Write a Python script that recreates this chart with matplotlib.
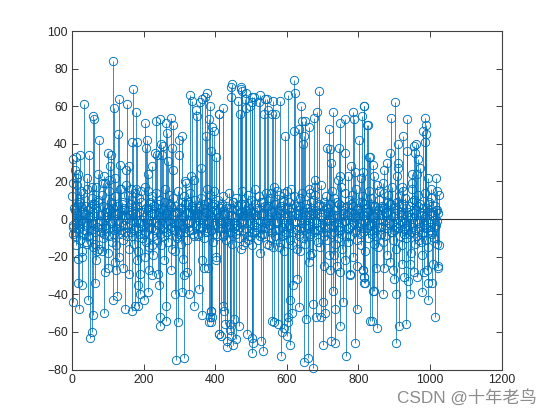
import numpy as np
import matplotlib
matplotlib.use('Agg')
import matplotlib.pyplot as plt

# Valores leidos a ojo de la figura
top_x = [115, 171, 132, 33, 118, 155, 179, 60, 62, 205, 75, 129, 169, 181, 209, 206, 100, 21, 47, 4, 11, 109, 106, 134,
         159, 150, 224, 231, 236, 246, 262, 276, 282, 266, 300, 306, 249, 255, 279, 238, 251, 299, 268, 283, 331, 335,
         346, 349, 362, 358, 377, 372, 385, 410, 383, 392, 397, 373, 387, 401, 360, 333, 342, 317, 319, 213, 74, 89,
         42, 9, 18, 2, 13, 57, 24, 137, 165, 180, 121, 102, 87, 211, 376, 398,
         447, 445, 443, 472, 473, 475, 486, 482, 463, 503, 509, 525, 523, 539, 545, 562, 580, 604, 619, 622, 691, 641,
         684, 675, 728, 784, 815, 810, 787, 762, 748, 825, 719, 642, 651, 663, 620, 635, 595, 649, 645, 712, 721, 747,
         764, 803, 829, 725, 779, 748, 744, 770, 792, 814, 808, 679, 680, 613, 555, 572, 592, 665, 469, 487, 497, 504,
         536, 548, 560, 567, 423, 411,
         903, 816, 891, 936, 987, 989, 982, 990, 986, 924, 911, 956, 961, 937, 958, 888, 826, 832, 841, 880, 872, 910,
         911, 908, 968, 972, 1018, 996, 844, 922, 870, 858, 1019, 1024, 949, 963, 950, 1002, 865]
top_y = [84, 69, 64, 61, 59, 61, 57, 55, 53, 51, 42, 45, 41, 41, 42, 38, 35, 34, 34, 32, 33, 34, 28, 29,
         28, 26, 28, 35, 52, 53, 51, 54, 50, 46, 42, 44, 40, 39, 38, 34, 34, 34, 31, 26, 66, 63,
         58, 55, 64, 62, 67, 65, 60, 56, 53, 49, 47, 44, 36, 33, 27, 23, 21, 20, 19, 24, 24, 23,
         22, 26, 24, 19, 22, 17, 15, 16, 16, 16, 22, 21, 19, 15, 16, 15,
         72, 70, 65, 70, 69, 68, 67, 64, 63, 65, 65, 66, 62, 64, 64, 63, 63, 66, 74, 67, 68, 60,
         57, 54, 57, 57, 60, 55, 53, 53, 51, 50, 48, 52, 52, 49, 47, 48, 44, 44, 40, 38, 37, 38,
         35, 42, 33, 30, 28, 23, 21, 23, 25, 25, 22, 21, 17, 16, 14, 15, 14, 14, 56, 59, 60, 62,
         56, 58, 56, 56, 59, 56,
         62, 60, 54, 53, 54, 50, 47, 45, 41, 44, 40, 39, 40, 36, 35, 35, 50, 33, 29, 30, 26, 30,
         27, 23, 32, 27, 22, 22, 23, 17, 19, 15, 15, 13, 24, 24, 19, 16, 6]

bot_x = [2, 8, 17, 28, 16, 29, 4, 20, 45, 58, 55, 51, 63, 67, 91, 89, 114, 125, 123, 119, 100, 142, 158, 147, 168,
         176, 184, 185, 190, 181, 203, 191, 201, 212, 214, 223, 240, 242, 245, 247, 263, 264, 258, 277, 289, 290, 296,
         314, 308, 326, 312, 321, 309, 342, 356, 363, 364, 384, 386, 387, 370, 381, 410, 402, 403, 69, 83, 41, 224, 288,
         389, 390, 388, 423, 425, 412, 417, 428, 441, 453, 467, 442, 445, 458, 434, 433, 451, 490, 502, 507, 503, 528,
         534, 479, 493, 525, 551, 560, 565, 576, 587, 592, 604, 600, 609, 584, 610, 616, 603, 618, 628, 635, 653, 672,
         682, 696, 707, 702, 700, 649, 659, 674, 723, 736, 734, 730, 750, 758, 765, 790, 796, 703, 722, 749, 776, 814,
         817, 815, 832, 661, 665, 637, 577, 732, 739, 763, 795, 777,
         1025, 1019, 1022, 1023, 1015, 995, 996, 1006, 977, 979, 984, 991, 963, 956, 945, 940, 927, 933, 914, 905, 906,
         900, 896, 871, 869, 848, 851, 839, 840, 845, 818, 816, 813, 970, 1009, 888, 944, 921]
bot_y = [-3, -9, -21, -20, -34, -35, -44, -48, -43, -51, -60, -63, -34, -22, -28, -50, -43, -41, -27, -23, -26, -26,
         -29, -48, -49, -46, -46, -35, -29, -22, -20, -40, -43, -39, -27, -30, -29, -35, -52, -57, -54, -46, -22, -27,
         -40, -75, -55, -74, -39, -40, -30, -28, -21, -46, -37, -22, -51, -55, -52, -49, -26, -26, -61, -22, -20, -17,
         -17, -13, -14, -17,
         -49, -52, -55, -46, -49, -61, -62, -56, -56, -53, -57, -59, -62, -64, -65, -68, -67, -61, -63, -66, -71, -65,
         -70, -14, -11, -9, -14, -54, -55, -56, -60, -58, -55, -62, -67, -73, -43, -50, -52, -35, -32, -47, -53, -45,
         -52, -52, -50, -44, -67, -76, -74, -79, -65, -66, -48, -38, -57, -44, -73, -66, -48, -25, -27, -28, -30, -27,
         -31, -34, -54, -23, -19, -17, -15, -19, -25, -22, -25, -29,
         -14, -13, -25, -26, -52, -43, -34, -34, -39, -19, -28, -27, -31, -28, -40, -33, -31, -56, -57, -66, -40,
         -32, -27, -26, -40, -26, -58, -54, -38, -38, -34, -31, -27, -11, -24, -23, -24, -24]

# nucleo denso alrededor de cero, un valor cada 3 muestras
core_y = [
    12, -8, 5, -14, 18, -3, 9, -11, 7, -17, 14, -6, 3, -12, 16, -9, 6, -2, 11, -15,
    8, -13, 17, -4, 10, -16, 2, -7, 13, -10, 19, -5, 4, -18, 15, -1, 9, -12, 6, -8,
    12, -14, 3, -20, 16, -6, 8, -11, 5, -3, 18, -9, 13, -16, 2, -7, 10, -13, 14, -4,
    7, -17, 11, -2, 15, -10, 4, -8, 17, -12, 6, -15, 9, -5, 12, -19, 3, -6, 14, -11,
    8, -3, 10, -14, 5, -9, 16, -7, 2, -12, 13, -5, 7, -16, 11, -2, 4, -10, 15, -8,
    6, -13, 9, -4, 12, -7, 3, -11, 8, -2, 14, -6, 5, -9, 10, -3, 2, -8, 7, -5,
    11, -4, 6, -10, 3, -7, 9, -2, 13, -6, 4, -12, 8, -3, 5, -9, 10, -1, 7, -5,
    12, -8, 3, -11, 6, -4, 14, -7, 2, -13, 9, -5, 11, -3, 7, -10, 4, -16, 15, -6,
    8, -12, 5, -2, 13, -9, 10, -14, 3, -7, 16, -4, 6, -11, 12, -18, 2, -8, 9, -5,
    14, -13, 7, -3, 11, -10, 4, -15, 17, -6, 8, -2, 13, -12, 5, -9, 10, -17, 3, -7,
    15, -4, 9, -11, 6, -14, 12, -1, 7, -16, 2, -8, 11, -5, 14, -10, 4, -13, 8, -3,
    16, -9, 5, -18, 10, -6, 13, -2, 3, -12, 7, -15, 18, -7, 9, -4, 12, -11, 6, -19,
    4, -8, 15, -3, 11, -13, 2, -10, 8, -6, 17, -16, 5, -1, 14, -9, 7, -12, 10, -4,
    13, -20, 3, -7, 16, -11, 6, -2, 9, -14, 12, -5, 8, -17, 4, -10, 15, -3, 11, -8,
    2, -13, 7, -6, 18, -15, 10, -4, 5, -12, 14, -9, 3, -19, 13, -2, 8, -7, 17, -11,
    6, -16, 9, -5, 12, -3, 4, -14, 15, -8, 11, -10, 2, -6, 7, -18, 16, -4, 10, -13,
    5, -9, 13, -2, 8, -12, 3, -7, 14, -11, 6, -15, 9, -4, 11, -8, 4, -10, 7, -3, 5,
]
core_step = 3

# segunda tanda, amplitud chica: es lo que llena la banda central
core2_y = [
    -4, 6, -7, 3, -2, 8, -5, 9, -1, 4, -8, 2, 7, -3, 5, -9, 1, -6, 8, -2,
    3, -7, 6, -4, 9, -1, 2, -5, 7, -8, 4, -3, 1, 6, -9, 5, -2, 8, -6, 3,
    -5, 7, -1, 4, -8, 2, 9, -3, 6, -7, 1, -4, 5, -2, 8, -9, 3, -6, 7, -1,
    2, -5, 4, -8, 9, -3, 1, -7, 6, -2, 5, -4, 8, -1, 3, -9, 7, -6, 2, -3,
    4, -8, 1, 6, -5, 9, -2, 3, -7, 5, -1, 8, -4, 2, -6, 7, -9, 3, -2, 4,
    -7, 6, -3, 1, -5, 8, -2, 9, -6, 4, -1, 7, -8, 2, 5, -3, 3, -9, 6, -4,
    1, -2, 8, -7, 4, -5, 9, -1, 2, -6, 7, -3, 5, -8, 3, -4, 1, 6, -2, 8,
    -9, 2, -5, 7, -1, 4, -3, 6, -7, 9, -2, 1, -8, 5, -6, 3, -4, 8, -1, 2,
    7, -5, 3, -9, 6, -2, 4, -7, 1, -3, 8, -6, 2, 5, -1, 9, -4, 3, -8, 7,
    -2, 6, -5, 1, -3, 4, -7, 8, -9, 2, -1, 5, -6, 3, 7, -4, 9, -2, 1, -8,
    6, -3, 4, -5, 2, -7, 8, -1, 3, -6, 5, -9, 7, -2, 1, -4, 2, -3, 6, -5,
    4, -8, 9, -1, 3, -7, 2, 5, -6, 8, -4, 1, -2, 7, -9, 3, 6, -1, 4, -5,
    8, -3, 2, -7, 5, -2, 9, -6, 1, -4, 7, -8, 3, 6, -1, 2, -5, 4, -9, 8,
    -3, 7, -2, 1, -6, 5, -4, 3, -8, 9, -7, 2, -1, 6, -5, 4, -3, 8, -2, 7,
    -6, 1, -9, 3, 5, -4, 2, -8, 7, -1, 6, -3, 4, -5, 9, -2, 8, -7, 1, -6,
    3, -4, 5, -2, 7, -9, 2, -1, 8, -5, 6, -3, 4, -8, 1, -7, 9, -2, 3, -6,
    5, -1, 7, -4, 2, -8, 6, -3, 1, -5, 4, -2, 8, -6, 3, -7, 2, -4, 5, -1, 3,
]
core2_start = 2

x_ticks = np.arange(0, 1201, 200)
y_ticks = np.arange(-80, 101, 20)

azul = '#0072BD'
gris = '#404040'

x = np.array(top_x + bot_x
             + list(np.arange(len(core_y)) * core_step + 1)
             + list(np.arange(len(core2_y)) * core_step + core2_start))
y = np.array(top_y + bot_y + core_y + core2_y)

plt.rcParams['font.family'] = ['Liberation Sans', 'Noto Sans CJK SC', 'DejaVu Sans']

fig = plt.figure(figsize=(5.54, 4.15), dpi=100)
ax = fig.add_axes([72 / 554, 1 - 369.5 / 415, 429.5 / 554, 338.5 / 415])

marcas, lineas, base = ax.stem(x, y, linefmt='-', markerfmt='o', basefmt=' ')
lineas.set_color(azul)
lineas.set_linewidth(0.7)
lineas.set_alpha(0.8)
marcas.set_markerfacecolor('none')
marcas.set_markeredgecolor(azul)
marcas.set_markeredgewidth(0.65)
marcas.set_markersize(6)
marcas.set_clip_on(False)
ax.axhline(0, color='#303030', lw=0.8, zorder=1)

ax.set_xlim(0, 1200)
ax.set_ylim(-80, 100)
ax.set_xticks(x_ticks)
ax.set_yticks(y_ticks)
ax.tick_params(direction='in', length=4, width=0.7, top=True, right=True,
               color=gris, labelcolor='#262626', labelsize=8.8, pad=3)
for s in ax.spines.values():
    s.set_linewidth(0.8)
    s.set_color(gris)

# marca de agua
fig.text(397 / 554, 1 - 397 / 415, 'CSDN @十年老鸟', fontsize=12.4, color='#808080',
         alpha=0.9, va='center', ha='left')

fig.savefig('out.png', dpi=100)
